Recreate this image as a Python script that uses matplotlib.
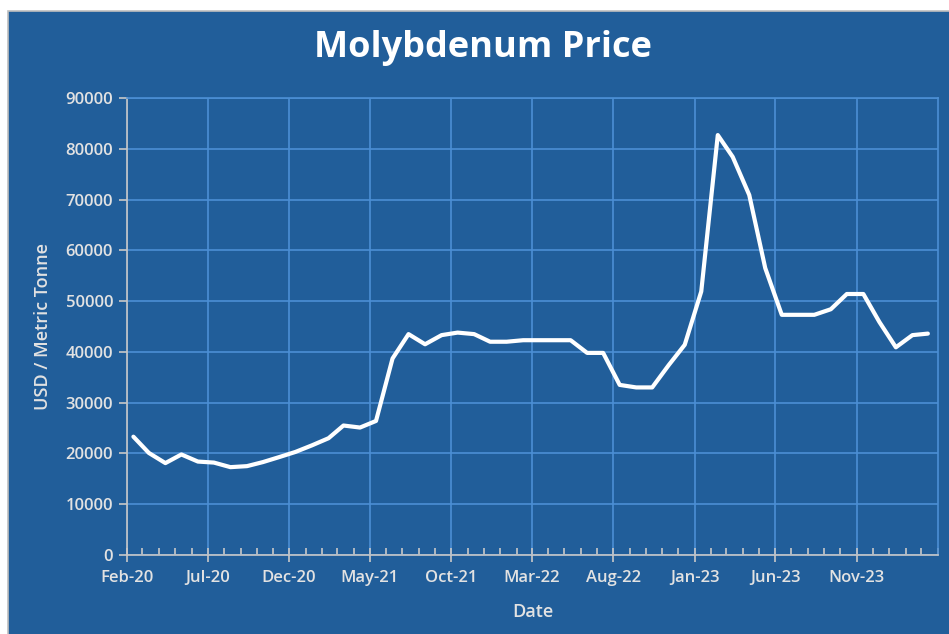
import numpy as np
import pandas as pd
import matplotlib
matplotlib.use('Agg')
import matplotlib.pyplot as plt
import matplotlib.dates as mdates
from matplotlib.patches import Rectangle
from matplotlib.ticker import FixedLocator

# Datos (precio mensual, USD por tonelada metrica)
months = pd.date_range('2020-02-01', periods=50, freq='MS') + pd.Timedelta(days=12)
prices = [23300, 20100, 18100, 19800, 18400, 18200, 17300, 17500, 18300, 19300,
          20300, 21600, 23000, 25500, 25100, 26400, 38700, 43500, 41500, 43300,
          43800, 43500, 42000, 42000, 42300, 42300, 42300, 42300, 39800, 39800,
          33500, 33000, 33000, 37400, 41400, 51900, 82700, 78400, 70900, 56500,
          47300, 47300, 47300, 48400, 51400, 51400, 45900, 40900, 43300, 43600]
tick_dates = pd.date_range('2020-02-01', periods=10, freq='5MS')
minor_dates = pd.date_range('2020-02-01', '2024-04-01', freq='MS')
y_ticks = list(range(0, 90001, 10000))

bg = '#215E9A'
grid_c = '#4C8FD4'
txt = '#E2E2E2'

plt.rcParams['font.family'] = ['Open Sans', 'DejaVu Sans']

fig = plt.figure(figsize=(9.49, 6.34), dpi=100)
fig.patch.set_facecolor('white')
# fondo azul del area del grafico (borde gris solo arriba e izquierda)
fig.add_artist(Rectangle((8 / 949, -0.05), 1.1, 1.05 - 11 / 634, transform=fig.transFigure,
                         facecolor=bg, edgecolor='#BFBFBF', linewidth=1.2, zorder=-5))

ax = fig.add_axes([127 / 949, 1 - 555 / 634, (938 - 127) / 949, (555 - 98) / 634])
ax.set_facecolor(bg)

ax.plot(months, prices, color='white', linewidth=3, solid_joinstyle='round',
        solid_capstyle='round', zorder=3)

ax.set_xlim(pd.Timestamp('2020-02-01'), pd.Timestamp('2024-04-01'))
ax.set_ylim(0, 90000)
ax.xaxis.set_major_locator(FixedLocator(mdates.date2num(tick_dates)))
ax.xaxis.set_minor_locator(FixedLocator(mdates.date2num(minor_dates)))
ax.xaxis.set_major_formatter(mdates.DateFormatter('%b-%y'))
ax.set_yticks(y_ticks)

ax.grid(True, which='major', color=grid_c, linewidth=1.2)
for s in ['top', 'right']:
    ax.spines[s].set_visible(True)
    ax.spines[s].set_color(grid_c)
    ax.spines[s].set_linewidth(1.2)
for s in ['left', 'bottom']:
    ax.spines[s].set_color('#C8C8C8')
    ax.spines[s].set_linewidth(1.2)

ax.tick_params(axis='x', which='major', direction='inout', length=10, width=1.2,
               color='#C8C8C8', labelcolor=txt, labelsize=12, pad=6)
ax.tick_params(axis='x', which='minor', direction='in', length=5, width=1.2, color='#C8C8C8')
ax.tick_params(axis='y', direction='out', length=6, width=1.2, color='#C8C8C8',
               labelcolor=txt, labelsize=12, pad=4)
for lab in ax.get_xticklabels() + ax.get_yticklabels():
    lab.set_fontweight('semibold')

ax.set_xlabel('Date', color=txt, fontsize=13, labelpad=12, fontweight='semibold')
ax.set_ylabel('USD / Metric Tonne', color=txt, fontsize=13, labelpad=10,
              fontweight='semibold')
fig.text(483 / 949, 1 - 48 / 634, 'Molybdenum Price', color='white', fontsize=26,
         fontweight='bold', ha='center', va='center')

plt.savefig('out.png', dpi=100, facecolor=fig.get_facecolor())
